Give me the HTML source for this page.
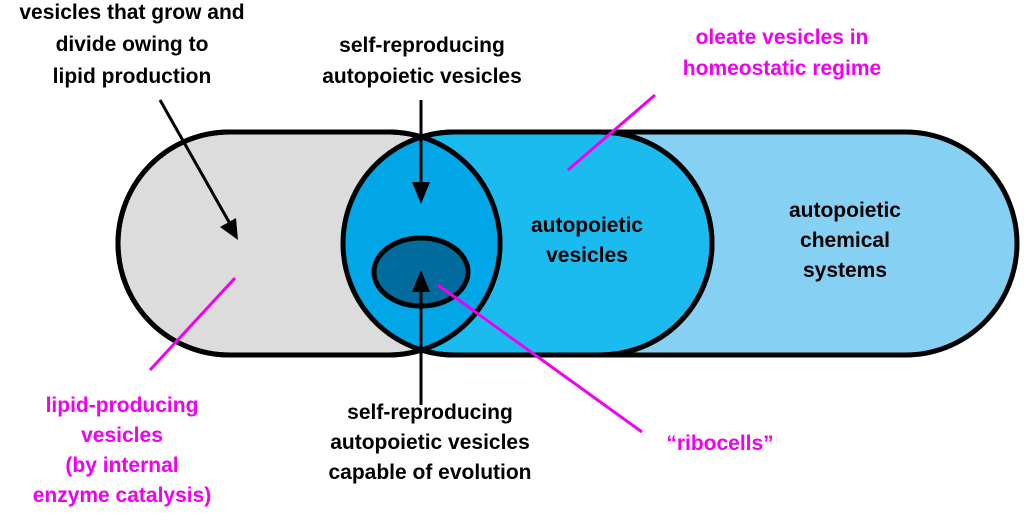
<!DOCTYPE html>
<html><head><meta charset="utf-8"><style>
body{margin:0;background:#fff;}
svg text{font-family:"Liberation Sans",Arial,sans-serif;font-weight:bold;font-size:21px;text-anchor:middle;}
</style></head><body>
<svg width="1024" height="515" viewBox="0 0 1024 515" xmlns="http://www.w3.org/2000/svg">
<defs>
<clipPath id="grayc"><rect x="118" y="132" width="382" height="223" rx="111.5"/></clipPath>
<marker id="ah" markerWidth="10" markerHeight="10" refX="9" refY="5" orient="auto" markerUnits="userSpaceOnUse" viewBox="0 0 10 10"><path d="M0,0 L10,5 L0,10z" fill="#000"/></marker>
</defs>
<!-- big capsule -->
<rect x="343" y="132" width="674" height="223" rx="111.5" fill="#86D0F4" stroke="#000" stroke-width="5"/>
<!-- middle capsule -->
<rect x="343" y="132" width="369" height="223" rx="111.5" fill="#1BBBEF" stroke="#000" stroke-width="5"/>
<!-- gray capsule -->
<rect x="118" y="132" width="382" height="223" rx="111.5" fill="#DCDCDC" stroke="#000" stroke-width="5"/>
<!-- lens -->
<g clip-path="url(#grayc)">
<rect x="343" y="132" width="369" height="223" rx="111.5" fill="#01A6E6"/>
</g>
<rect x="343" y="132" width="369" height="223" rx="111.5" fill="none" stroke="#000" stroke-width="5"/>
<rect x="118" y="132" width="382" height="223" rx="111.5" fill="none" stroke="#000" stroke-width="5"/>
<ellipse cx="421" cy="272" rx="47" ry="34" fill="#006B9C" stroke="#000" stroke-width="5"/>
<!-- arrows -->
<line x1="421" y1="100" x2="421" y2="182" stroke="#000" stroke-width="3"/>
<path d="M412,182 L430,182 L421,204z" fill="#000"/>
<line x1="421" y1="405" x2="421" y2="290" stroke="#000" stroke-width="3"/>
<path d="M412,292 L430,292 L421,270z" fill="#000"/>
<line x1="160" y1="100" x2="229" y2="222" stroke="#000" stroke-width="3"/>
<path d="M220,227 L236,218 L238,240z" fill="#000"/>
<!-- magenta lines -->
<g stroke="#F000F0" stroke-width="3">
<line x1="568" y1="170" x2="655" y2="95"/>
<line x1="235" y1="278" x2="150" y2="370"/>
<line x1="438" y1="285" x2="642" y2="432"/>
</g>
<!-- text -->
<text x="132" y="19">vesicles that grow and</text>
<text x="132" y="51">divide owing to</text>
<text x="132" y="83">lipid production</text>
<text x="422" y="52">self-reproducing</text>
<text x="422" y="83">autopoietic vesicles</text>
<text x="782" y="44" fill="#F000F0">oleate vesicles in</text>
<text x="782" y="75" fill="#F000F0">homeostatic regime</text>
<text x="587" y="232">autopoietic</text>
<text x="587" y="262">vesicles</text>
<text x="845" y="217">autopoietic</text>
<text x="845" y="247">chemical</text>
<text x="845" y="277">systems</text>
<text x="122" y="412" fill="#F000F0">lipid-producing</text>
<text x="122" y="442" fill="#F000F0">vesicles</text>
<text x="122" y="472" fill="#F000F0">(by internal</text>
<text x="122" y="502" fill="#F000F0">enzyme catalysis)</text>
<text x="430" y="419">self-reproducing</text>
<text x="430" y="449">autopoietic vesicles</text>
<text x="430" y="479">capable of evolution</text>
<text x="720" y="450" fill="#F000F0">“ribocells”</text>
</svg>
</body></html>
